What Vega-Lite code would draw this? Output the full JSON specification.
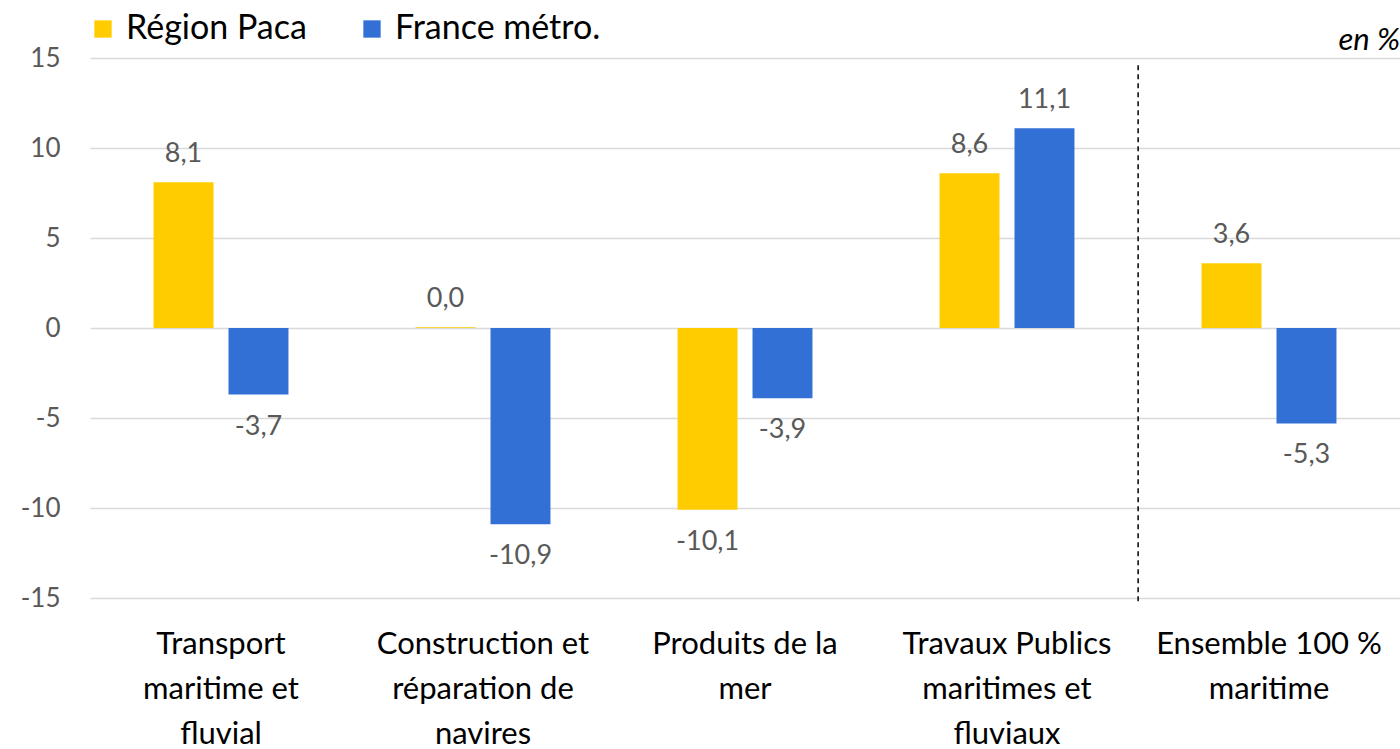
{
  "$schema": "https://vega.github.io/schema/vega-lite/v6.json",
  "autosize": {"type": "none"},
  "width": 1310,
  "height": 540,
  "padding": {"left": 90, "top": 58, "right": 0, "bottom": 151},
  "background": "white",
  "config": {
    "locale": {"number": {"decimal": ",", "thousands": " ", "grouping": [3], "currency": ["", " €"], "minus": "-"}},
    "font": "Lato",
    "view": {"stroke": null}
  },
  "title": {"text": "en %", "anchor": "end", "fontStyle": "italic", "fontWeight": "normal", "fontSize": 31, "color": "#000000", "font": "Lato", "offset": -45},
  "datasets": {
    "bars": [
      {"secteur": "Transport maritime et fluvial", "serie": "Région Paca", "valeur": 8.1},
      {"secteur": "Transport maritime et fluvial", "serie": "France métro.", "valeur": -3.7},
      {"secteur": "Construction et réparation de navires", "serie": "Région Paca", "valeur": 0.04},
      {"secteur": "Construction et réparation de navires", "serie": "France métro.", "valeur": -10.9},
      {"secteur": "Produits de la mer", "serie": "Région Paca", "valeur": -10.1},
      {"secteur": "Produits de la mer", "serie": "France métro.", "valeur": -3.9},
      {"secteur": "Travaux Publics maritimes et fluviaux", "serie": "Région Paca", "valeur": 8.6},
      {"secteur": "Travaux Publics maritimes et fluviaux", "serie": "France métro.", "valeur": 11.1},
      {"secteur": "Ensemble 100 % maritime", "serie": "Région Paca", "valeur": 3.6},
      {"secteur": "Ensemble 100 % maritime", "serie": "France métro.", "valeur": -5.3}
    ],
    "separateur": [
      {"secteur": "Ensemble 100 % maritime", "haut": 14.6, "bas": -15.3}
    ]
  },
  "encoding": {
    "x": {
      "field": "secteur", "type": "nominal", "sort": null,
      "scale": {"paddingInner": 0.485, "paddingOuter": 0.2425},
      "axis": {
        "title": null, "domain": false, "ticks": false, "labelAngle": 0,
        "labelFontSize": 31, "labelColor": "#000000", "labelPadding": 31,
        "labelLineHeight": 45, "labelBaseline": "top", "labelLimit": 300,
        "labelExpr": "datum.value == 'Transport maritime et fluvial' ? ['Transport', 'maritime et', 'fluvial'] : datum.value == 'Construction et réparation de navires' ? ['Construction et', 'réparation de', 'navires'] : datum.value == 'Produits de la mer' ? ['Produits de la', 'mer'] : datum.value == 'Travaux Publics maritimes et fluviaux' ? ['Travaux Publics', 'maritimes et', 'fluviaux'] : ['Ensemble 100 %', 'maritime']"
      }
    }
  },
  "layer": [
    {
      "data": {"name": "bars"},
      "mark": {"type": "bar"},
      "encoding": {
        "xOffset": {"field": "serie", "type": "nominal", "sort": ["Région Paca", "France métro."], "scale": {"paddingInner": 0.2, "paddingOuter": 0}},
        "y": {
          "field": "valeur", "type": "quantitative",
          "scale": {"domain": [-15, 15], "nice": false, "zero": false},
          "axis": {
            "title": null, "values": [-15, -10, -5, 0, 5, 10, 15], "format": "d",
            "domain": false, "ticks": false, "grid": true, "gridColor": "#D9D9D9", "gridWidth": 1.3,
            "labelFontSize": 26, "labelColor": "#595959", "labelPadding": 30
          }
        },
        "color": {
          "field": "serie", "type": "nominal",
          "scale": {"domain": ["Région Paca", "France métro."], "range": ["#FFCC00", "#3370D6"]},
          "legend": {
            "title": null, "orient": "none", "direction": "horizontal",
            "legendX": -4, "legendY": -46, "symbolType": "square", "symbolSize": 300,
            "symbolStrokeWidth": 0, "labelFontSize": 34, "labelColor": "#000000",
            "columnPadding": 48, "labelOffset": 6, "labelLimit": 400
          }
        }
      }
    },
    {
      "data": {"name": "bars"},
      "transform": [{"filter": "datum.valeur >= 0"}],
      "mark": {"type": "text", "baseline": "bottom", "dy": -14, "fontSize": 27, "color": "#595959"},
      "encoding": {
        "xOffset": {"field": "serie", "type": "nominal", "sort": ["Région Paca", "France métro."], "scale": {"paddingInner": 0.2, "paddingOuter": 0}},
        "y": {"field": "valeur", "type": "quantitative"},
        "text": {"field": "valeur", "type": "quantitative", "format": ".1f"}
      }
    },
    {
      "data": {"name": "bars"},
      "transform": [{"filter": "datum.valeur < 0"}],
      "mark": {"type": "text", "baseline": "top", "dy": 19, "fontSize": 27, "color": "#595959"},
      "encoding": {
        "xOffset": {"field": "serie", "type": "nominal", "sort": ["Région Paca", "France métro."], "scale": {"paddingInner": 0.2, "paddingOuter": 0}},
        "y": {"field": "valeur", "type": "quantitative"},
        "text": {"field": "valeur", "type": "quantitative", "format": ".1f"}
      }
    },
    {
      "data": {"name": "separateur"},
      "mark": {"type": "rule", "color": "#000000", "strokeWidth": 1.5, "strokeDash": [5, 4]},
      "encoding": {
        "x": {"field": "secteur", "type": "nominal", "bandPosition": -0.47},
        "y": {"field": "haut", "type": "quantitative"},
        "y2": {"field": "bas"}
      }
    }
  ]
}
